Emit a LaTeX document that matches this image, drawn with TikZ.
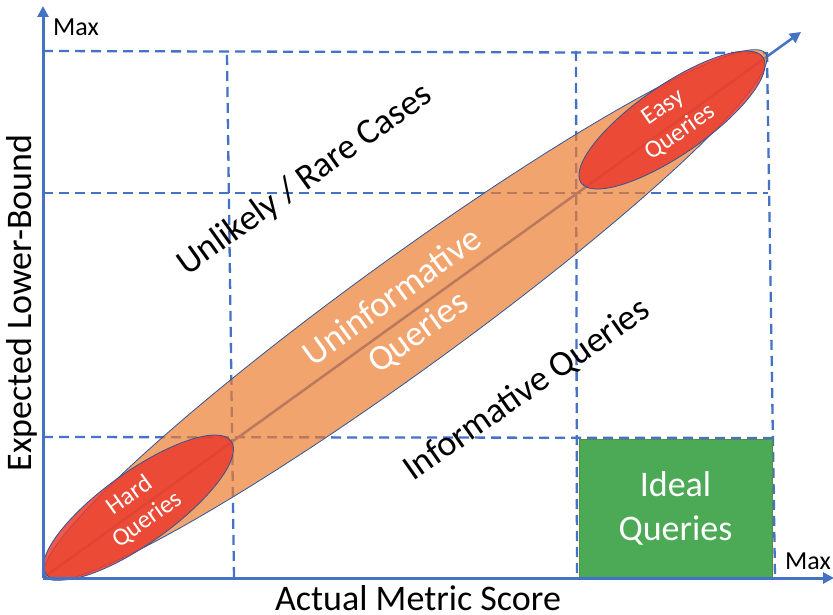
\documentclass[tikz,border=0pt]{standalone}
\usepackage{fontspec}
\setmainfont{Carlito}
\usetikzlibrary{shapes.geometric,arrows.meta}
\definecolor{axisblue}{HTML}{4472C4}
\definecolor{rimblue}{HTML}{2F5597}
\definecolor{orangefill}{HTML}{ED7D31}
\definecolor{redfill}{HTML}{E93B2D}
\definecolor{greenfill}{HTML}{4CAA57}
\definecolor{greenrim}{HTML}{5B8A3C}
\tikzset{
  axisline/.style={draw=axisblue, line width=3pt, -{Triangle[length=11pt,width=11pt]}},
  gridline/.style={draw=axisblue, line width=2.3pt, dash pattern=on 10pt off 6pt},
  diagline/.style={draw=axisblue, line width=2.5pt, -{Triangle[length=11pt,width=11pt]}},
  blob/.style={ellipse, draw=rimblue, line width=0.8pt, inner sep=0pt, text opacity=1, text=white, align=center},
  bigtext/.style={font=\fontsize{36}{44}\selectfont, inner sep=0pt},
  bigtwo/.style={font=\fontsize{36}{44}\selectfont, inner sep=0pt, align=center},
  smalltext/.style={font=\fontsize{26}{30}\selectfont, inner sep=0pt},
}
\begin{document}
\begin{tikzpicture}[x=1pt,y=-1pt]
\useasboundingbox (0,0) rectangle (833,615);
% key points
\coordinate (O) at (43,578);
\coordinate (ytip) at (43,6);
\coordinate (xtip) at (834,578);
\coordinate (dtip) at (801,32);
% grid corners
\coordinate (h1a) at (43,51);  \coordinate (h1b) at (767,53);
\coordinate (h2a) at (43,193); \coordinate (h2b) at (768,193);
\coordinate (h3a) at (43,437); \coordinate (h3b) at (772,438);
\coordinate (v1a) at (227,55); \coordinate (v1b) at (234,578);
\coordinate (v2a) at (576,51); \coordinate (v2b) at (577,578);
\coordinate (v3a) at (767,52); \coordinate (v3b) at (775,578);
% dashed grid
\draw[gridline] (h1a) -- (h1b);
\draw[gridline] (h2a) -- (h2b);
\draw[gridline] (h3a) -- (h3b);
\draw[gridline] (v1a) -- (v1b);
\draw[gridline] (v2a) -- (v2b);
\draw[gridline] (v3a) -- (v3b);
% ideal box
\node[draw=greenrim, line width=0.6pt, fill=greenfill, minimum width=193pt, minimum height=139pt, inner sep=0pt,
      text=white, bigtwo] (ideal) at (675.5,508.5) {Ideal\\Queries};
% diagonal arrow
\draw[diagline] (O) -- (dtip);
% ellipses
\node[blob, fill=orangefill, fill opacity=0.7, minimum width=890pt, minimum height=110pt, rotate=36,
      font=\fontsize{36}{44}\selectfont] (uninf) at (405.5,315) {Uninformative\\Queries};
\node[blob, fill=redfill, fill opacity=0.85, minimum width=228pt, minimum height=52pt, rotate=35.6,
      font=\fontsize{25}{30}\selectfont] (hard) at (138.5,507.5) {Hard\\Queries};
\node[blob, fill=redfill, fill opacity=0.85, minimum width=221pt, minimum height=53pt, rotate=34.6,
      font=\fontsize{25}{30}\selectfont] (easy) at (672,120) {Easy\\Queries};
% axes
\draw[axisline] (O) -- (ytip);
\draw[axisline] (O) -- (xtip);
% texts
\node[smalltext] (ymax) at (76,27) {Max};
\node[smalltext] (xmax) at (808,561) {Max};
\node[bigtext, rotate=90] (ylab) at (22,303) {Expected Lower-Bound};
\node[bigtext] (xlab) at (418,598) {Actual Metric Score};
\node[bigtext, rotate=35.6] (rare) at (305,180) {Unlikely / Rare Cases};
\node[bigtext, rotate=35] (inf) at (527,390) {Informative Queries};
\end{tikzpicture}
\end{document}
